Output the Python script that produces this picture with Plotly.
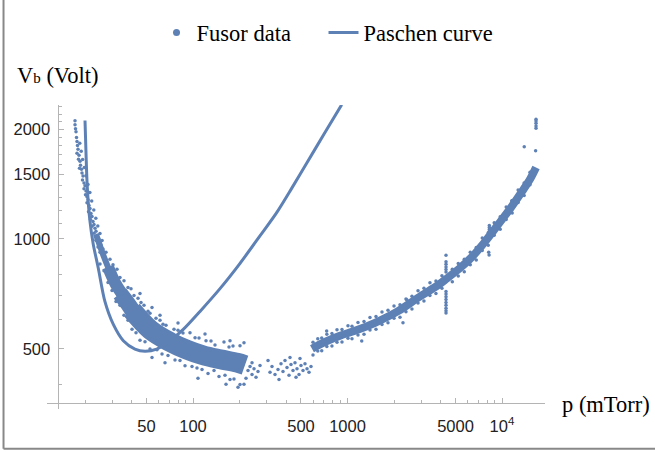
import plotly.graph_objects as go

BLUE = "#5E81B5"
AXIS = "#b4b4b4"
SERIF = "Liberation Serif"
SANS = "Liberation Sans"

# ---------------- data ----------------
# Paschen curve (p in mTorr, Vb in Volt)
paschen_p = [20.0, 20.3, 20.7, 21.5, 22.6, 24.4, 26.9, 30.5, 35.4, 42.1, 48.9, 58.2,
             71.0, 86.5, 111, 150, 201, 272, 348, 435, 544, 705, 917]
paschen_v = [2112, 1716, 1380, 1124, 969, 830, 674, 583, 526, 499, 492, 499,
             526, 565, 633, 732, 856, 1021, 1181, 1376, 1613, 1938, 2333]

# Fusor data, steep low-pressure part
steep_p = [17.23, 17.23, 17.36, 17.49, 17.62, 17.75, 17.88, 18.02, 17.75, 18.29, 18.15, 18.56,
           18.70, 18.42, 18.98, 19.12, 19.41, 19.26, 19.70, 20.00, 19.70, 20.30, 20.15, 20.60,
           20.91, 20.60, 21.23, 21.54, 21.07, 21.87, 22.20, 21.70, 22.53, 22.87, 22.20, 23.21,
           23.56, 22.87, 23.91, 24.45, 23.56, 24.82, 25.38, 24.27, 26.15, 25.01,
           18.5, 18.9, 19.3, 19.8, 20.3, 20.9, 21.5, 22.1, 22.8, 23.5, 24.2, 25.0, 25.8]
steep_v = [2108, 2056, 2005, 1968, 1896, 1849, 1804, 1760, 1716, 1695, 1653, 1633,
           1593, 1563, 1553, 1515, 1487, 1450, 1424, 1398, 1372, 1354, 1321, 1305,
           1281, 1257, 1234, 1211, 1188, 1174, 1152, 1131, 1117, 1096, 1083, 1069,
           1049, 1036, 1023, 1004, 992, 980, 962, 950, 938, 920,
           1830, 1740, 1650, 1570, 1490, 1410, 1340, 1270, 1200, 1140, 1085, 1035, 990]

# centre of the dense cloud near the minimum (the cloud widens with pressure)
core_a_p = [23.56, 26.54, 29.91]
core_a_v = [1030, 892, 788]
core_b_p = [28.18, 31.74, 36.84, 42.1]
core_b_v = [838, 750, 683, 634]
core_bc_p = [33.69, 37.96, 42.1, 46.07]
core_bc_v = [709, 664, 622, 594]
core_c_p = [40.3, 52.69, 71.0, 91.5, 116, 150, 193, 217]
core_c_v = [638, 565, 522, 497, 480, 468, 458, 451]

# scattered points around the dense cloud
edge_hi_p = [27.35, 29.02, 30.35, 32.22, 33.69, 35.76, 37.96, 39.69, 41.50, 44.06, 46.07, 48.17,
             51.14, 52.69, 57.61, 61.16, 63.95, 66.87, 75.34, 79.99, 86.14, 95.63, 103.1, 109.4,
             121.4, 130.8, 138.8, 158.7, 171.0, 181.5, 201.5, 213.8,
             45.39, 54.28, 61.16, 79.99, 119.6, 173.6]
edge_hi_v = [920, 880, 850, 826, 784, 768, 736, 730, 700, 688, 670, 658,
             634, 626, 606, 599, 584, 580, 566, 562, 552, 553, 536, 535,
             526, 525, 512, 522, 506, 509, 510, 519,
             709, 649, 618, 588, 549, 526]
edge_lo_p = [25.01, 26.54, 28.18, 29.91, 31.74, 33.69, 35.76, 37.96, 40.30, 42.77, 45.39, 48.91,
             52.69, 58.48, 63.01, 68.90, 76.47, 82.40, 88.78, 98.51, 106.1, 114.4, 125.1, 136.8,
             147.3, 161.1, 173.6, 184.2, 201.5, 213.8, 220.3,
             54.28, 65.88, 107.7, 163.6, 195.6]
edge_lo_v = [854, 818, 760, 722, 674, 658, 618, 599, 566, 553, 528, 523,
             499, 497, 484, 479, 466, 464, 449, 447, 443, 439, 428, 436,
             420, 423, 412, 413, 399, 400, 415,
             473, 458, 415, 400, 392]

# sparse transition region
sparse_p = [227.0, 233.9, 241.0, 248.3, 255.8, 263.4, 271.5, 315.1, 324.6, 339.4, 354.9, 371.2,
            382.4, 394.0, 405.9, 418.2, 430.9, 443.9, 457.3, 471.2, 485.5, 500.0, 515.2, 530.8,
            547.0, 563.4, 580.5, 360.3, 464.2, 424.4, 492.7, 241.0, 305.9]
sparse_v = [436, 447, 425, 441, 418, 433, 450, 431, 447, 425, 439, 455,
            433, 464, 444, 423, 453, 436, 458, 441, 425, 450, 436, 455,
            441, 431, 447, 412, 418, 473, 470, 458, 464]

# high-pressure branch: centre of the band and scattered edges
right_p = [589, 715, 894, 1118, 1507, 2123, 2860, 3853, 4406, 5349, 6395, 7762,
           9284, 11267, 13473, 15183, 16603]
right_c = [500, 522, 543, 560, 589, 634, 690, 747, 780, 832, 893, 983,
           1085, 1209, 1349, 1458, 1570]

rs_p = [598, 642, 681, 735, 793, 855, 921, 1007, 1069, 1169, 1279, 1398, 1529, 1672, 1828,
        2000, 2186, 2390, 2613, 2860, 3125, 3417, 3736, 4085, 4768, 5212, 5700, 6233, 6814,
        7450, 8145, 8905, 9736, 10645, 11640, 12720, 13910, 15183]
rs_hi = [521, 533, 535, 548, 551, 564, 565, 578, 576, 590, 594, 609, 613, 631, 638,
         655, 660, 684, 696, 721, 732, 758, 767, 793, 826, 857, 880, 920, 947,
         1006, 1040, 1107, 1151, 1224, 1275, 1361, 1424, 1524]
rs_lo = [481, 493, 494, 507, 509, 521, 522, 534, 533, 545, 548, 563, 566, 583, 589,
         606, 610, 632, 643, 667, 676, 700, 709, 732, 763, 792, 813, 850, 875,
         929, 961, 1023, 1063, 1131, 1178, 1258, 1316, 1408]

# outliers
out_p = [4341] * 15 + [8280] * 4 + [8200, 8250] + [16600] * 5 + [13930, 16500] + \
        [733, 1236, 2286, 2418, 11560]
out_v = [902, 866, 852, 838, 825, 812, 718, 706, 694, 682, 670, 658, 646, 636, 627,
         1089, 1075, 1062, 1050, 920, 903,
         2010, 2040, 2075, 2105, 2130, 1789, 1745,
         559, 525, 589, 681, 1270]

# axes
x_tick_vals = [50, 100, 500, 1000, 5000, 10000]
x_tick_text = ["50", "100", "500", "1000", "5000", "10<sup>4</sup>"]
x_minor = [20, 30, 40, 60, 70, 80, 90, 200, 300, 400, 600, 700, 800, 900,
           2000, 3000, 4000, 6000, 7000, 8000, 9000]
y_tick_vals = [500, 1000, 1500, 2000]
y_tick_text = ["500", "1000", "1500", "2000"]
y_minor = [400, 600, 700, 800, 900, 1100, 1200, 1300, 1400, 1600, 1700, 1800, 1900,
           2100, 2200, 2300]

# ---------------- figure ----------------
fig = go.Figure()

# dense cores of the measured bands, drawn as broad strokes through their centres
for cp, cv, w in [(core_a_p, core_a_v, 6), (core_b_p, core_b_v, 12),
                  (core_bc_p, core_bc_v, 16), (core_c_p, core_c_v, 20),
                  (right_p, right_c, 8)]:
    fig.add_trace(go.Scatter(x=cp, y=cv, mode="lines",
                             line=dict(width=w, color=BLUE, shape="spline"),
                             hoverinfo="skip", showlegend=False))

pts_p = steep_p + edge_hi_p + edge_lo_p + sparse_p + rs_p + rs_p + out_p
pts_v = steep_v + edge_hi_v + edge_lo_v + sparse_v + rs_hi + rs_lo + out_v
fig.add_trace(go.Scatter(
    x=pts_p, y=pts_v, mode="markers",
    marker=dict(size=3.5, color=BLUE, line=dict(width=0)),
    hoverinfo="skip", showlegend=False))

fig.add_trace(go.Scatter(
    x=paschen_p, y=paschen_v, mode="lines",
    line=dict(color=BLUE, width=3, shape="spline", smoothing=0.8),
    showlegend=False))

# legend entries
fig.add_trace(go.Scatter(
    x=[None], y=[None], mode="markers", name="Fusor data",
    marker=dict(size=7, color=BLUE), legendwidth=122))
fig.add_trace(go.Scatter(
    x=[None], y=[None], mode="lines", name="Paschen curve",
    line=dict(color=BLUE, width=3)))

tickfont = dict(family=SANS, size=16.5, color="#222222")

fig.update_layout(
    width=655, height=452,
    margin=dict(l=47, r=110, t=101, b=43),
    paper_bgcolor="white", plot_bgcolor="white",
    showlegend=True,
    legend=dict(orientation="h", traceorder="normal",
                x=0.2199, xanchor="left", y=1.237, yanchor="middle",
                font=dict(family=SERIF, size=22.5, color="black"),
                bgcolor="rgba(0,0,0,0)", borderwidth=0),
    xaxis=dict(type="log", range=[1.0550, 4.2783], anchor="free", position=0.0205,
               showline=True, linecolor=AXIS, linewidth=1,
               ticks="inside", ticklen=5, tickwidth=1, tickcolor=AXIS,
               tickvals=x_tick_vals, ticktext=x_tick_text, tickfont=tickfont,
               ticklabelstandoff=8,
               minor=dict(tickvals=x_minor, ticks="inside", ticklen=3,
                          tickcolor=AXIS, showgrid=False),
               showgrid=False, zeroline=False),
    yaxis=dict(type="log", range=[2.5339, 3.3671], anchor="free", position=0.0211,
               showline=True, linecolor=AXIS, linewidth=1,
               ticks="inside", ticklen=5, tickwidth=1, tickcolor=AXIS,
               tickvals=y_tick_vals, ticktext=y_tick_text, tickfont=tickfont,
               ticklabelstandoff=4,
               minor=dict(tickvals=y_minor, ticks="inside", ticklen=3,
                          tickcolor=AXIS, showgrid=False),
               showgrid=False, zeroline=False),
    annotations=[
        dict(text="V<span style='font-size:15px'>b</span> (Volt)", xref="paper", yref="paper",
             x=-0.0651, y=1.098, xanchor="left", yanchor="middle", showarrow=False,
             font=dict(family=SERIF, size=22.5, color="black")),
        dict(text="p (mTorr)", xref="paper", yref="paper",
             x=1.0301, y=0.0162, xanchor="left", yanchor="middle", showarrow=False,
             font=dict(family=SERIF, size=22.5, color="black")),
    ],
    shapes=[
        dict(type="line", xref="paper", yref="paper", x0=-0.0873, x1=-0.0873,
             y0=1.40, y1=-0.1308, line=dict(color="#888888", width=2)),
        dict(type="line", xref="paper", yref="paper", x0=-0.0873, x1=1.25,
             y0=-0.1308, y1=-0.1308, line=dict(color="#888888", width=2)),
    ],
)

fig.write_html("out.html")
